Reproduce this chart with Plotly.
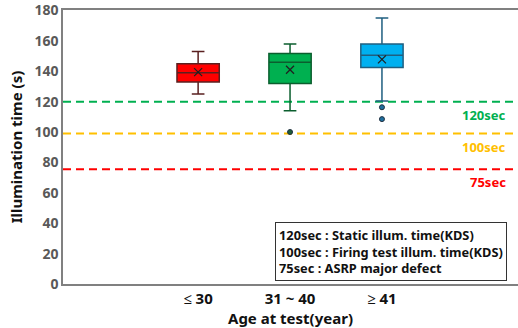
import plotly.graph_objects as go

categories = ["≤ 30", "31 ~ 40", "≥ 41"]
lower_whisker = [125, 114, 120.5]
q1_values = [133, 132, 142.4]
medians = [139, 146, 150.5]
q3_values = [145, 151.7, 158]
upper_whisker = [153, 158, 175]
means = [139.4, 141, 147.8]
outlier_cats = ["31 ~ 40", "≥ 41", "≥ 41"]
outlier_values = [100, 116.3, 108.5]
outlier_colors = ["#1E5E3A", "#1F6F9F", "#1F6F9F"]

fill_colors = ["#FF0000", "#00B050", "#00B0F0"]
line_colors = ["#5A2020", "#0B5E2E", "#1F5F80"]

ref_values = [120, 99, 75.5]
ref_labels = ["120sec", "100sec", "75sec"]
ref_colors = ["#00B050", "#FFC000", "#FF0000"]

legend_lines = ["120sec : Static illum. time(KDS)",
                "100sec : Firing test illum. time(KDS)",
                "75sec : ASRP major defect"]

y_ticks = [0, 20, 40, 60, 80, 100, 120, 140, 160, 180]

FONT = "Noto Sans"

fig = go.Figure()

for i, c in enumerate(categories):
    fig.add_trace(go.Box(
        x=[c], q1=[q1_values[i]], median=[medians[i]], q3=[q3_values[i]],
        lowerfence=[lower_whisker[i]], upperfence=[upper_whisker[i]],
        fillcolor=fill_colors[i], line=dict(color=line_colors[i], width=1.5),
        width=0.46, whiskerwidth=0.3, boxpoints=False, showlegend=False,
        hoverinfo="skip"))

fig.add_trace(go.Scatter(
    x=categories, y=means, mode="markers",
    marker=dict(symbol="x-thin", size=8, line=dict(color="#202020", width=1.3)),
    showlegend=False, hoverinfo="skip"))

fig.add_trace(go.Scatter(
    x=outlier_cats, y=outlier_values, mode="markers",
    marker=dict(symbol="circle", size=5, color=outlier_colors,
                line=dict(color="#203040", width=1)),
    showlegend=False, hoverinfo="skip"))

for v, lab, col in zip(ref_values, ref_labels, ref_colors):
    fig.add_shape(type="line", xref="paper", yref="y", x0=0, x1=1, y0=v, y1=v,
                  line=dict(color=col, width=2, dash="8px,5px"), layer="below")
    fig.add_annotation(xref="paper", yref="y", x=0.978, y=v, yshift=-13,
                       xanchor="right", yanchor="middle", showarrow=False,
                       text="<b>%s</b>" % lab,
                       font=dict(family=FONT, size=13, color=col))

fig.add_annotation(xref="paper", yref="paper", x=0.466, y=0.226,
                   xanchor="left", yanchor="top", showarrow=False, align="left",
                   text="<br>".join("<b>%s</b>" % t for t in legend_lines),
                   font=dict(family=FONT, size=12.8, color="#111111"),
                   bordercolor="#333333", borderwidth=1, borderpad=3,
                   bgcolor="white")

fig.update_layout(
    width=518, height=328,
    margin=dict(l=63, r=0, t=7, b=44),
    paper_bgcolor="white", plot_bgcolor="white",
    font=dict(family=FONT),
    xaxis=dict(type="category", categoryorder="array", categoryarray=categories,
               range=[-1.47, 3.48], showgrid=False, zeroline=False,
               showline=True, mirror=True, linecolor="#808080", linewidth=1.5,
               ticks="", tickfont=dict(family=FONT, size=15, color="#111111"),
               title=dict(text="<b>Age at test(year)</b>", standoff=2,
                          font=dict(family=FONT, size=15, color="#111111"))),
    yaxis=dict(range=[0, 180.3], tickmode="array",
               tickvals=y_ticks,
               ticktext=["<b>%d</b>" % t for t in y_ticks],
               ticklabeloverflow="allow",
               showgrid=False, zeroline=False, showline=True,
               linecolor="#808080", linewidth=1.5, ticks="",
               tickfont=dict(family=FONT, size=14, color="#595959"),
               title=dict(text="<b>Illumination time (s)</b>", standoff=8,
                          font=dict(family=FONT, size=15, color="#111111"))),
)
fig.update_xaxes(ticktext=["<b>%s</b>" % c for c in categories], tickvals=categories)

fig.write_html("out.html", config={"displayModeBar": False},
               post_script="document.body.style.margin='0';document.body.style.overflow='hidden';")
